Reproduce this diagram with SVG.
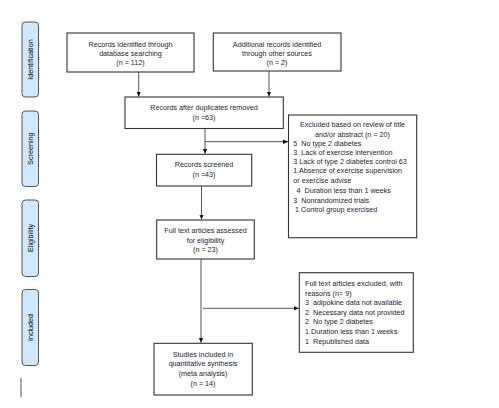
<svg xmlns="http://www.w3.org/2000/svg" width="499" height="408" viewBox="0 0 499 408">
<defs>
<style>
text{font-family:"Liberation Sans",Arial,sans-serif;font-size:7.2px;fill:#1c1c30;white-space:pre}
.c{text-anchor:middle}
.side rect{fill:#cfe8fb;stroke:#555;stroke-width:1}
.side text{font-size:7.2px;fill:#000;text-anchor:middle}
.box{fill:#fff;stroke:#333;stroke-width:1.1}
.conn line,.conn path{stroke:#555;stroke-width:1;fill:none}
</style>
<marker id="ah" markerWidth="6" markerHeight="6" refX="5" refY="3" orient="auto" markerUnits="userSpaceOnUse">
<path d="M0,0.8 L5,3 L0,5.2 Z" fill="#111"/>
</marker>
</defs>
<rect width="499" height="408" fill="#fff"/>

<g id="phase-identification" class="side"><rect x="22" y="22" width="16.5" height="75" rx="3.5"/><text transform="translate(32.5,59.5) rotate(-90)">Identification</text></g>
<g id="phase-screening" class="side"><rect x="22" y="111" width="16.5" height="75.5" rx="3.5"/><text transform="translate(32.5,148.7) rotate(-90)">Screening</text></g>
<g id="phase-eligibility" class="side"><rect x="22" y="200" width="16.5" height="76.5" rx="3.5"/><text transform="translate(32.5,238) rotate(-90)">Eligibility</text></g>
<g id="phase-included" class="side"><rect x="22" y="289.5" width="16.5" height="76" rx="3.5"/><text transform="translate(32.5,327.5) rotate(-90)">Included</text></g>

<g id="conn" class="conn">
<line x1="138.7" y1="72" x2="138.7" y2="96.5" marker-end="url(#ah)"/>
<line x1="269" y1="71" x2="269" y2="96.5" marker-end="url(#ah)"/>
<line x1="205" y1="128.5" x2="205" y2="153.8" marker-end="url(#ah)"/>
<line x1="205" y1="141.7" x2="288" y2="141.7" marker-end="url(#ah)"/>
<line x1="201.5" y1="186" x2="201.5" y2="219.5" marker-end="url(#ah)"/>
<line x1="201" y1="259" x2="201" y2="342.8" marker-end="url(#ah)"/>
<line x1="203" y1="308.3" x2="298.8" y2="308.3" marker-end="url(#ah)"/>
<line x1="21" y1="378" x2="21" y2="397" stroke="#111"/>
</g>

<g id="n1"><rect class="box" x="67" y="33" width="127" height="39"/>
<text class="c" x="130.5" y="46.5">Records identified through</text>
<text class="c" x="130.5" y="55.8">database searching</text>
<text class="c" x="130.5" y="65">(n = 112)</text></g>

<g id="n2"><rect class="box" x="213.3" y="33" width="127.7" height="38"/>
<text class="c" x="277" y="46.5">Additional records identified</text>
<text class="c" x="277" y="55.8">through other sources</text>
<text class="c" x="277" y="65">(n = 2)</text></g>

<g id="n3"><rect class="box" x="125" y="97" width="158.3" height="31.5"/>
<text class="c" x="204" y="110">Records after duplicates removed</text>
<text class="c" x="204" y="120">(n =63)</text></g>

<g id="n4"><rect class="box" x="156.5" y="154.3" width="95.2" height="31.7"/>
<text class="c" x="204" y="167.3">Records screened</text>
<text class="c" x="204" y="176.6">(n =43)</text></g>

<g id="n5"><rect class="box" x="156.7" y="220" width="97.6" height="39"/>
<text class="c" x="205.5" y="233.3">Full text articles assessed</text>
<text class="c" x="205.5" y="242.5">for eligibility</text>
<text class="c" x="205.5" y="252.2">(n = 23)</text></g>

<g id="n6"><rect class="box" x="154" y="343.3" width="98.3" height="51.7" stroke-width="1.5" stroke="#222"/>
<text class="c" x="203" y="356.6">Studies included in</text>
<text class="c" x="203" y="366.4">quantitative synthesis</text>
<text class="c" x="203" y="375.9">(meta analysis)</text>
<text class="c" x="203" y="385.5">(n = 14)</text></g>

<g id="ex1"><rect class="box" x="288.5" y="115" width="128.2" height="122.7"/>
<text class="c" x="352.5" y="127.3">Excluded based on review of title</text>
<text class="c" x="352.5" y="136.6">and/or abstract (n = 20)</text>
<text x="293.3" y="145.6">5  No type 2 diabetes</text>
<text x="293.3" y="154.9">3  Lack of exercise intervention</text>
<text x="293.3" y="164.1">3 Lack of type 2 diabetes control 63</text>
<text x="293.3" y="173.3">1 Absence of exercise supervision</text>
<text x="293.3" y="183.4">or exercise advise</text>
<text x="296.5" y="192.8">4  Duration less than 1 weeks</text>
<text x="293.3" y="203">3  Nonrandomized trials</text>
<text x="295" y="212.2">1 Control group exercised</text></g>

<g id="ex2"><rect class="box" x="299.3" y="272.7" width="114" height="79.6"/>
<text x="305" y="285.6">Full text articles excluded, with</text>
<text x="305" y="295.5">reasons (n= 9)</text>
<text x="305" y="305.2">3  adipokine data not available</text>
<text x="305" y="314.9">2  Necessary data not provided</text>
<text x="305" y="324">2  No type 2 diabetes</text>
<text x="305" y="333.9">1 Duration less than 1 weeks</text>
<text x="305" y="343.9">1  Republished data</text></g>
</svg>
